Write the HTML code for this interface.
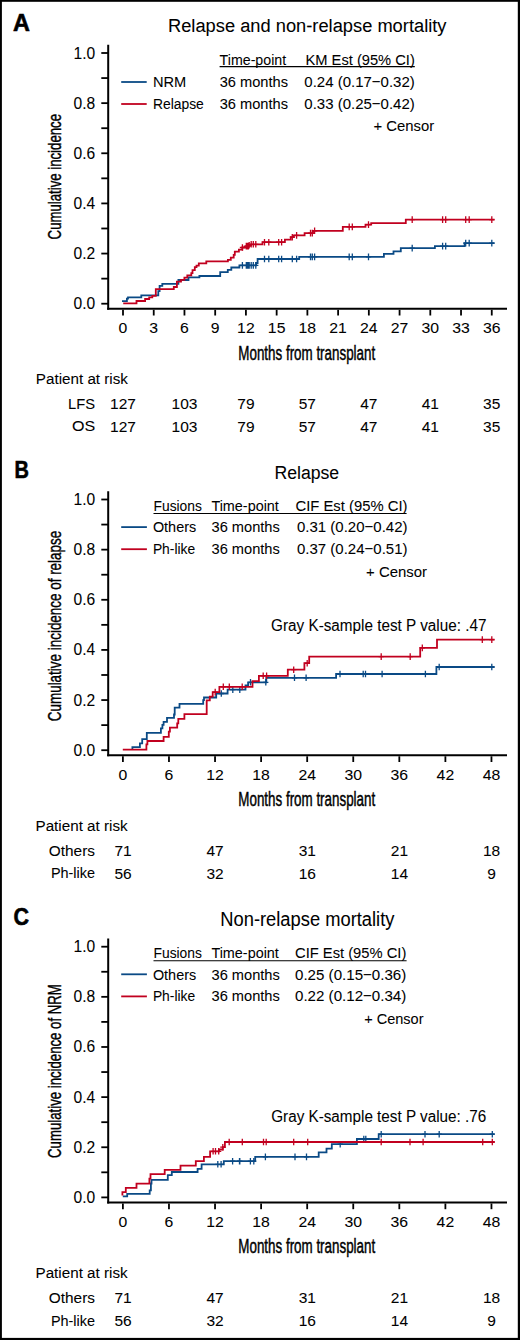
<!DOCTYPE html>
<html><head><meta charset="utf-8"><title>Cumulative incidence curves</title>
<style>html,body{margin:0;padding:0;background:#fff;} svg{display:block;} text{font-family:"Liberation Sans",sans-serif;}</style>
</head><body>
<svg width="520" height="1340" viewBox="0 0 520 1340">
<rect width="520" height="1340" fill="#fff"/>
<text x="12.90" y="30.90" font-size="24" font-weight="bold" stroke="#000" stroke-width="0.6" textLength="16.90" lengthAdjust="spacingAndGlyphs" fill="#000">A</text>
<text x="168.00" y="31.70" font-size="19.2" stroke="#000" stroke-width="0.06" textLength="278.49" lengthAdjust="spacingAndGlyphs" fill="#000">Relapse and non-relapse mortality</text>
<line x1="108.20" y1="44.80" x2="108.20" y2="309.80" stroke="#000" stroke-width="2.0"/>
<line x1="107.20" y1="308.80" x2="507.00" y2="308.80" stroke="#000" stroke-width="2.0"/>
<line x1="101.30" y1="53.00" x2="108.20" y2="53.00" stroke="#000" stroke-width="1.8"/>
<line x1="101.30" y1="78.07" x2="108.20" y2="78.07" stroke="#000" stroke-width="1.8"/>
<line x1="101.30" y1="103.14" x2="108.20" y2="103.14" stroke="#000" stroke-width="1.8"/>
<line x1="101.30" y1="128.21" x2="108.20" y2="128.21" stroke="#000" stroke-width="1.8"/>
<line x1="101.30" y1="153.28" x2="108.20" y2="153.28" stroke="#000" stroke-width="1.8"/>
<line x1="101.30" y1="178.35" x2="108.20" y2="178.35" stroke="#000" stroke-width="1.8"/>
<line x1="101.30" y1="203.42" x2="108.20" y2="203.42" stroke="#000" stroke-width="1.8"/>
<line x1="101.30" y1="228.49" x2="108.20" y2="228.49" stroke="#000" stroke-width="1.8"/>
<line x1="101.30" y1="253.56" x2="108.20" y2="253.56" stroke="#000" stroke-width="1.8"/>
<line x1="101.30" y1="278.63" x2="108.20" y2="278.63" stroke="#000" stroke-width="1.8"/>
<line x1="101.30" y1="303.70" x2="108.20" y2="303.70" stroke="#000" stroke-width="1.8"/>
<text x="73.52" y="58.50" font-size="15.6" stroke="#000" stroke-width="0.06" fill="#000">1.0</text>
<text x="73.52" y="108.64" font-size="15.6" stroke="#000" stroke-width="0.06" fill="#000">0.8</text>
<text x="73.52" y="158.78" font-size="15.6" stroke="#000" stroke-width="0.06" fill="#000">0.6</text>
<text x="73.52" y="208.92" font-size="15.6" stroke="#000" stroke-width="0.06" fill="#000">0.4</text>
<text x="73.52" y="259.06" font-size="15.6" stroke="#000" stroke-width="0.06" fill="#000">0.2</text>
<text x="73.52" y="309.20" font-size="15.6" stroke="#000" stroke-width="0.06" fill="#000">0.0</text>
<line x1="123.00" y1="309.80" x2="123.00" y2="315.50" stroke="#000" stroke-width="1.8"/>
<text x="118.61" y="333.30" font-size="14.9" stroke="#000" stroke-width="0.06" textLength="8.78" lengthAdjust="spacingAndGlyphs" fill="#000">0</text>
<line x1="153.73" y1="309.80" x2="153.73" y2="315.50" stroke="#000" stroke-width="1.8"/>
<text x="149.34" y="333.30" font-size="14.9" stroke="#000" stroke-width="0.06" textLength="8.78" lengthAdjust="spacingAndGlyphs" fill="#000">3</text>
<line x1="184.46" y1="309.80" x2="184.46" y2="315.50" stroke="#000" stroke-width="1.8"/>
<text x="180.07" y="333.30" font-size="14.9" stroke="#000" stroke-width="0.06" textLength="8.78" lengthAdjust="spacingAndGlyphs" fill="#000">6</text>
<line x1="215.19" y1="309.80" x2="215.19" y2="315.50" stroke="#000" stroke-width="1.8"/>
<text x="210.80" y="333.30" font-size="14.9" stroke="#000" stroke-width="0.06" textLength="8.78" lengthAdjust="spacingAndGlyphs" fill="#000">9</text>
<line x1="245.92" y1="309.80" x2="245.92" y2="315.50" stroke="#000" stroke-width="1.8"/>
<text x="237.14" y="333.30" font-size="14.9" stroke="#000" stroke-width="0.06" textLength="17.57" lengthAdjust="spacingAndGlyphs" fill="#000">12</text>
<line x1="276.65" y1="309.80" x2="276.65" y2="315.50" stroke="#000" stroke-width="1.8"/>
<text x="267.87" y="333.30" font-size="14.9" stroke="#000" stroke-width="0.06" textLength="17.57" lengthAdjust="spacingAndGlyphs" fill="#000">15</text>
<line x1="307.38" y1="309.80" x2="307.38" y2="315.50" stroke="#000" stroke-width="1.8"/>
<text x="298.60" y="333.30" font-size="14.9" stroke="#000" stroke-width="0.06" textLength="17.57" lengthAdjust="spacingAndGlyphs" fill="#000">18</text>
<line x1="338.11" y1="309.80" x2="338.11" y2="315.50" stroke="#000" stroke-width="1.8"/>
<text x="329.33" y="333.30" font-size="14.9" stroke="#000" stroke-width="0.06" textLength="17.57" lengthAdjust="spacingAndGlyphs" fill="#000">21</text>
<line x1="368.84" y1="309.80" x2="368.84" y2="315.50" stroke="#000" stroke-width="1.8"/>
<text x="360.06" y="333.30" font-size="14.9" stroke="#000" stroke-width="0.06" textLength="17.57" lengthAdjust="spacingAndGlyphs" fill="#000">24</text>
<line x1="399.57" y1="309.80" x2="399.57" y2="315.50" stroke="#000" stroke-width="1.8"/>
<text x="390.79" y="333.30" font-size="14.9" stroke="#000" stroke-width="0.06" textLength="17.57" lengthAdjust="spacingAndGlyphs" fill="#000">27</text>
<line x1="430.30" y1="309.80" x2="430.30" y2="315.50" stroke="#000" stroke-width="1.8"/>
<text x="421.52" y="333.30" font-size="14.9" stroke="#000" stroke-width="0.06" textLength="17.57" lengthAdjust="spacingAndGlyphs" fill="#000">30</text>
<line x1="461.03" y1="309.80" x2="461.03" y2="315.50" stroke="#000" stroke-width="1.8"/>
<text x="452.25" y="333.30" font-size="14.9" stroke="#000" stroke-width="0.06" textLength="17.57" lengthAdjust="spacingAndGlyphs" fill="#000">33</text>
<line x1="491.76" y1="309.80" x2="491.76" y2="315.50" stroke="#000" stroke-width="1.8"/>
<text x="482.98" y="333.30" font-size="14.9" stroke="#000" stroke-width="0.06" textLength="17.57" lengthAdjust="spacingAndGlyphs" fill="#000">36</text>
<text x="238.30" y="360.00" font-size="19.4" stroke="#000" stroke-width="0.45" textLength="136.89" lengthAdjust="spacingAndGlyphs" fill="#000">Months from transplant</text>
<text x="0" y="0" font-size="18.5" stroke="#000" stroke-width="0.4" textLength="125.40" lengthAdjust="spacingAndGlyphs" fill="#000" transform="translate(61.30,239.40) rotate(-90)">Cumulative incidence</text>
<line x1="121.20" y1="82.00" x2="146.70" y2="82.00" stroke="#0a4a85" stroke-width="1.8"/>
<line x1="121.20" y1="104.00" x2="146.70" y2="104.00" stroke="#c1001f" stroke-width="1.8"/>
<text x="152.90" y="86.90" font-size="15.4" stroke="#000" stroke-width="0.06" textLength="33.31" lengthAdjust="spacingAndGlyphs" fill="#000">NRM</text>
<text x="152.90" y="108.90" font-size="15.4" stroke="#000" stroke-width="0.06" textLength="50.90" lengthAdjust="spacingAndGlyphs" fill="#000">Relapse</text>
<text x="219.60" y="64.60" font-size="15.4" stroke="#000" stroke-width="0.06" textLength="66.59" lengthAdjust="spacingAndGlyphs" fill="#000">Time-point</text>
<text x="305.50" y="64.60" font-size="15.4" stroke="#000" stroke-width="0.06" textLength="109.30" lengthAdjust="spacingAndGlyphs" fill="#000">KM Est (95% CI)</text>
<line x1="219.60" y1="66.60" x2="414.80" y2="66.60" stroke="#000" stroke-width="1.2"/>
<text x="219.70" y="86.90" font-size="15.4" stroke="#000" stroke-width="0.06" textLength="68.31" lengthAdjust="spacingAndGlyphs" fill="#000">36 months</text>
<text x="219.70" y="108.90" font-size="15.4" stroke="#000" stroke-width="0.06" textLength="68.31" lengthAdjust="spacingAndGlyphs" fill="#000">36 months</text>
<text x="304.30" y="86.90" font-size="15.4" stroke="#000" stroke-width="0.06" textLength="110.50" lengthAdjust="spacingAndGlyphs" fill="#000">0.24 (0.17−0.32)</text>
<text x="304.30" y="108.90" font-size="15.4" stroke="#000" stroke-width="0.06" textLength="110.50" lengthAdjust="spacingAndGlyphs" fill="#000">0.33 (0.25−0.42)</text>
<text x="373.50" y="131.00" font-size="15.4" stroke="#000" stroke-width="0.06" textLength="60.61" lengthAdjust="spacingAndGlyphs" fill="#000">+ Censor</text>
<path d="M122.00,301.10 H126.90 V298.70 H128.00 V297.30 H141.30 V295.40 H158.30 V291.20 H159.60 V285.90 H162.30 V283.80 H178.40 V280.00 H188.50 V277.30 H199.40 V276.00 H220.20 V272.20 H227.80 V269.80 H231.30 V267.50 H239.40 V265.40 H256.20 V263.00 H257.60 V259.00 H299.20 V256.90 H383.90 V253.80 H393.50 V251.40 H400.80 V248.10 H434.90 V246.10 H464.60 V243.10 H494.60" fill="none" stroke="#0a4a85" stroke-width="1.8" stroke-linejoin="miter" stroke-linecap="butt"/>
<path d="M242.40,262.10V268.70M239.80,265.40H245.00M246.30,262.10V268.70M243.70,265.40H248.90M247.30,262.10V268.70M244.70,265.40H249.90M248.30,262.10V268.70M245.70,265.40H250.90M249.20,262.10V268.70M246.60,265.40H251.80M251.20,262.10V268.70M248.60,265.40H253.80M253.30,262.10V268.70M250.70,265.40H255.90M255.80,262.10V268.70M253.20,265.40H258.40M264.50,255.70V262.30M261.90,259.00H267.10M268.80,255.70V262.30M266.20,259.00H271.40M278.70,255.70V262.30M276.10,259.00H281.30M281.60,255.70V262.30M279.00,259.00H284.20M292.30,255.70V262.30M289.70,259.00H294.90M296.60,255.70V262.30M294.00,259.00H299.20M310.50,253.60V260.20M307.90,256.90H313.10M312.30,253.60V260.20M309.70,256.90H314.90M314.60,253.60V260.20M312.00,256.90H317.20M349.20,253.60V260.20M346.60,256.90H351.80M352.30,253.60V260.20M349.70,256.90H354.90M368.50,253.60V260.20M365.90,256.90H371.10M412.20,244.80V251.40M409.60,248.10H414.80M442.60,242.80V249.40M440.00,246.10H445.20M445.70,242.80V249.40M443.10,246.10H448.30M465.70,239.80V246.40M463.10,243.10H468.30M469.20,239.80V246.40M466.60,243.10H471.80M491.80,239.80V246.40M489.20,243.10H494.40" fill="none" stroke="#0a4a85" stroke-width="1.3"/>
<path d="M123.20,303.30 H136.50 V301.00 H145.10 V299.00 H149.20 V297.30 H152.30 V295.80 H155.80 V289.20 H173.80 V287.00 H176.90 V281.70 H181.00 V279.80 H184.40 V277.70 H187.30 V275.40 H191.30 V273.10 H192.50 V270.20 H194.80 V267.10 H196.50 V265.60 H198.80 V263.30 H206.30 V261.30 H227.90 V259.80 H230.80 V257.70 H233.70 V254.80 H234.80 V251.70 H238.90 V249.60 H242.30 V247.50 H246.10 V246.10 H248.40 V245.20 H251.00 V244.30 H262.50 V242.20 H284.90 V239.70 H290.80 V237.20 H293.80 V235.40 H304.60 V233.10 H313.00 V230.80 H342.80 V226.90 H365.50 V224.60 H371.20 V223.10 H405.80 V219.60 H494.60" fill="none" stroke="#c1001f" stroke-width="1.8" stroke-linejoin="miter" stroke-linecap="butt"/>
<path d="M242.40,244.20V250.80M239.80,247.50H245.00M246.30,242.80V249.40M243.70,246.10H248.90M247.30,242.80V249.40M244.70,246.10H249.90M248.30,242.80V249.40M245.70,246.10H250.90M249.20,241.90V248.50M246.60,245.20H251.80M251.20,241.00V247.60M248.60,244.30H253.80M253.30,241.00V247.60M250.70,244.30H255.90M255.80,241.00V247.60M253.20,244.30H258.40M264.50,238.90V245.50M261.90,242.20H267.10M268.80,238.90V245.50M266.20,242.20H271.40M278.70,238.90V245.50M276.10,242.20H281.30M281.60,238.90V245.50M279.00,242.20H284.20M292.30,233.90V240.50M289.70,237.20H294.90M296.60,232.10V238.70M294.00,235.40H299.20M310.50,229.80V236.40M307.90,233.10H313.10M312.30,229.80V236.40M309.70,233.10H314.90M314.60,227.50V234.10M312.00,230.80H317.20M349.20,223.60V230.20M346.60,226.90H351.80M352.30,223.60V230.20M349.70,226.90H354.90M368.50,221.30V227.90M365.90,224.60H371.10M412.20,216.30V222.90M409.60,219.60H414.80M442.60,216.30V222.90M440.00,219.60H445.20M445.70,216.30V222.90M443.10,219.60H448.30M465.70,216.30V222.90M463.10,219.60H468.30M469.20,216.30V222.90M466.60,219.60H471.80M491.80,216.30V222.90M489.20,219.60H494.40" fill="none" stroke="#c1001f" stroke-width="1.3"/>
<text x="35.80" y="384.30" font-size="15.4" stroke="#000" stroke-width="0.06" textLength="92.17" lengthAdjust="spacingAndGlyphs" fill="#000">Patient at risk</text>
<text x="68.10" y="409.20" font-size="15.3" stroke="#000" stroke-width="0.06" textLength="27.00" lengthAdjust="spacingAndGlyphs" fill="#000">LFS</text>
<text x="71.90" y="431.40" font-size="15.3" stroke="#000" stroke-width="0.06" textLength="23.20" lengthAdjust="spacingAndGlyphs" fill="#000">OS</text>
<text x="110.07" y="409.40" font-size="15.5" stroke="#000" stroke-width="0.06" fill="#000">127</text>
<text x="110.07" y="431.50" font-size="15.5" stroke="#000" stroke-width="0.06" fill="#000">127</text>
<text x="171.52" y="409.40" font-size="15.5" stroke="#000" stroke-width="0.06" fill="#000">103</text>
<text x="171.52" y="431.50" font-size="15.5" stroke="#000" stroke-width="0.06" fill="#000">103</text>
<text x="237.28" y="409.40" font-size="15.5" stroke="#000" stroke-width="0.06" fill="#000">79</text>
<text x="237.28" y="431.50" font-size="15.5" stroke="#000" stroke-width="0.06" fill="#000">79</text>
<text x="298.73" y="409.40" font-size="15.5" stroke="#000" stroke-width="0.06" fill="#000">57</text>
<text x="298.73" y="431.50" font-size="15.5" stroke="#000" stroke-width="0.06" fill="#000">57</text>
<text x="360.18" y="409.40" font-size="15.5" stroke="#000" stroke-width="0.06" fill="#000">47</text>
<text x="360.18" y="431.50" font-size="15.5" stroke="#000" stroke-width="0.06" fill="#000">47</text>
<text x="421.63" y="409.40" font-size="15.5" stroke="#000" stroke-width="0.06" fill="#000">41</text>
<text x="421.63" y="431.50" font-size="15.5" stroke="#000" stroke-width="0.06" fill="#000">41</text>
<text x="483.08" y="409.40" font-size="15.5" stroke="#000" stroke-width="0.06" fill="#000">35</text>
<text x="483.08" y="431.50" font-size="15.5" stroke="#000" stroke-width="0.06" fill="#000">35</text>
<text x="14.40" y="477.50" font-size="24" font-weight="bold" stroke="#000" stroke-width="0.6" textLength="14.40" lengthAdjust="spacingAndGlyphs" fill="#000">B</text>
<text x="274.40" y="478.80" font-size="19.2" stroke="#000" stroke-width="0.06" textLength="64.80" lengthAdjust="spacingAndGlyphs" fill="#000">Relapse</text>
<line x1="108.20" y1="491.30" x2="108.20" y2="756.30" stroke="#000" stroke-width="2.0"/>
<line x1="107.20" y1="755.30" x2="507.00" y2="755.30" stroke="#000" stroke-width="2.0"/>
<line x1="101.30" y1="499.50" x2="108.20" y2="499.50" stroke="#000" stroke-width="1.8"/>
<line x1="101.30" y1="524.57" x2="108.20" y2="524.57" stroke="#000" stroke-width="1.8"/>
<line x1="101.30" y1="549.64" x2="108.20" y2="549.64" stroke="#000" stroke-width="1.8"/>
<line x1="101.30" y1="574.71" x2="108.20" y2="574.71" stroke="#000" stroke-width="1.8"/>
<line x1="101.30" y1="599.78" x2="108.20" y2="599.78" stroke="#000" stroke-width="1.8"/>
<line x1="101.30" y1="624.85" x2="108.20" y2="624.85" stroke="#000" stroke-width="1.8"/>
<line x1="101.30" y1="649.92" x2="108.20" y2="649.92" stroke="#000" stroke-width="1.8"/>
<line x1="101.30" y1="674.99" x2="108.20" y2="674.99" stroke="#000" stroke-width="1.8"/>
<line x1="101.30" y1="700.06" x2="108.20" y2="700.06" stroke="#000" stroke-width="1.8"/>
<line x1="101.30" y1="725.13" x2="108.20" y2="725.13" stroke="#000" stroke-width="1.8"/>
<line x1="101.30" y1="750.20" x2="108.20" y2="750.20" stroke="#000" stroke-width="1.8"/>
<text x="73.52" y="505.00" font-size="15.6" stroke="#000" stroke-width="0.06" fill="#000">1.0</text>
<text x="73.52" y="555.14" font-size="15.6" stroke="#000" stroke-width="0.06" fill="#000">0.8</text>
<text x="73.52" y="605.28" font-size="15.6" stroke="#000" stroke-width="0.06" fill="#000">0.6</text>
<text x="73.52" y="655.42" font-size="15.6" stroke="#000" stroke-width="0.06" fill="#000">0.4</text>
<text x="73.52" y="705.56" font-size="15.6" stroke="#000" stroke-width="0.06" fill="#000">0.2</text>
<text x="73.52" y="755.70" font-size="15.6" stroke="#000" stroke-width="0.06" fill="#000">0.0</text>
<line x1="122.90" y1="756.30" x2="122.90" y2="762.00" stroke="#000" stroke-width="1.8"/>
<text x="118.51" y="779.80" font-size="14.9" stroke="#000" stroke-width="0.06" textLength="8.78" lengthAdjust="spacingAndGlyphs" fill="#000">0</text>
<line x1="168.97" y1="756.30" x2="168.97" y2="762.00" stroke="#000" stroke-width="1.8"/>
<text x="164.58" y="779.80" font-size="14.9" stroke="#000" stroke-width="0.06" textLength="8.78" lengthAdjust="spacingAndGlyphs" fill="#000">6</text>
<line x1="215.04" y1="756.30" x2="215.04" y2="762.00" stroke="#000" stroke-width="1.8"/>
<text x="206.26" y="779.80" font-size="14.9" stroke="#000" stroke-width="0.06" textLength="17.57" lengthAdjust="spacingAndGlyphs" fill="#000">12</text>
<line x1="261.11" y1="756.30" x2="261.11" y2="762.00" stroke="#000" stroke-width="1.8"/>
<text x="252.33" y="779.80" font-size="14.9" stroke="#000" stroke-width="0.06" textLength="17.57" lengthAdjust="spacingAndGlyphs" fill="#000">18</text>
<line x1="307.18" y1="756.30" x2="307.18" y2="762.00" stroke="#000" stroke-width="1.8"/>
<text x="298.40" y="779.80" font-size="14.9" stroke="#000" stroke-width="0.06" textLength="17.57" lengthAdjust="spacingAndGlyphs" fill="#000">24</text>
<line x1="353.25" y1="756.30" x2="353.25" y2="762.00" stroke="#000" stroke-width="1.8"/>
<text x="344.47" y="779.80" font-size="14.9" stroke="#000" stroke-width="0.06" textLength="17.57" lengthAdjust="spacingAndGlyphs" fill="#000">30</text>
<line x1="399.32" y1="756.30" x2="399.32" y2="762.00" stroke="#000" stroke-width="1.8"/>
<text x="390.54" y="779.80" font-size="14.9" stroke="#000" stroke-width="0.06" textLength="17.57" lengthAdjust="spacingAndGlyphs" fill="#000">36</text>
<line x1="445.39" y1="756.30" x2="445.39" y2="762.00" stroke="#000" stroke-width="1.8"/>
<text x="436.61" y="779.80" font-size="14.9" stroke="#000" stroke-width="0.06" textLength="17.57" lengthAdjust="spacingAndGlyphs" fill="#000">42</text>
<line x1="491.46" y1="756.30" x2="491.46" y2="762.00" stroke="#000" stroke-width="1.8"/>
<text x="482.68" y="779.80" font-size="14.9" stroke="#000" stroke-width="0.06" textLength="17.57" lengthAdjust="spacingAndGlyphs" fill="#000">48</text>
<text x="238.30" y="806.40" font-size="19.4" stroke="#000" stroke-width="0.45" textLength="136.89" lengthAdjust="spacingAndGlyphs" fill="#000">Months from transplant</text>
<text x="0" y="0" font-size="18.5" stroke="#000" stroke-width="0.4" textLength="190.41" lengthAdjust="spacingAndGlyphs" fill="#000" transform="translate(60.50,721.20) rotate(-90)">Cumulative incidence of relapse</text>
<line x1="121.20" y1="527.10" x2="146.90" y2="527.10" stroke="#0a4a85" stroke-width="1.8"/>
<line x1="121.20" y1="549.20" x2="146.90" y2="549.20" stroke="#c1001f" stroke-width="1.8"/>
<text x="153.50" y="511.20" font-size="15.4" stroke="#000" stroke-width="0.06" textLength="48.41" lengthAdjust="spacingAndGlyphs" fill="#000">Fusions</text>
<text x="211.40" y="511.20" font-size="15.4" stroke="#000" stroke-width="0.06" textLength="67.49" lengthAdjust="spacingAndGlyphs" fill="#000">Time-point</text>
<text x="295.50" y="511.20" font-size="15.4" stroke="#000" stroke-width="0.06" textLength="111.99" lengthAdjust="spacingAndGlyphs" fill="#000">CIF Est (95% CI)</text>
<line x1="153.50" y1="513.50" x2="406.60" y2="513.50" stroke="#000" stroke-width="1.1"/>
<text x="152.90" y="532.30" font-size="15.4" stroke="#000" stroke-width="0.06" textLength="43.30" lengthAdjust="spacingAndGlyphs" fill="#000">Others</text>
<text x="152.90" y="554.20" font-size="15.4" stroke="#000" stroke-width="0.06" textLength="42.30" lengthAdjust="spacingAndGlyphs" fill="#000">Ph-like</text>
<text x="211.50" y="532.30" font-size="15.4" stroke="#000" stroke-width="0.06" textLength="68.31" lengthAdjust="spacingAndGlyphs" fill="#000">36 months</text>
<text x="211.50" y="554.20" font-size="15.4" stroke="#000" stroke-width="0.06" textLength="68.31" lengthAdjust="spacingAndGlyphs" fill="#000">36 months</text>
<text x="297.00" y="532.30" font-size="15.4" stroke="#000" stroke-width="0.06" textLength="110.50" lengthAdjust="spacingAndGlyphs" fill="#000">0.31 (0.20−0.42)</text>
<text x="297.00" y="554.20" font-size="15.4" stroke="#000" stroke-width="0.06" textLength="110.50" lengthAdjust="spacingAndGlyphs" fill="#000">0.37 (0.24−0.51)</text>
<text x="366.10" y="576.50" font-size="15.4" stroke="#000" stroke-width="0.06" textLength="60.91" lengthAdjust="spacingAndGlyphs" fill="#000">+ Censor</text>
<text x="271.10" y="630.80" font-size="15.8" stroke="#000" stroke-width="0.06" textLength="215.40" lengthAdjust="spacingAndGlyphs" fill="#000">Gray K-sample test P value: .47</text>
<path d="M132.40,749.60 H132.40 V747.10 H139.90 V743.30 H142.20 V739.20 H146.80 V732.90 H160.90 V728.30 H162.40 V724.80 H163.60 V721.90 H167.00 V717.90 H174.00 V714.50 H174.70 V707.70 H179.50 V703.80 H203.20 V700.20 H204.00 V697.50 H216.20 V693.50 H227.60 V689.60 H245.50 V685.30 H248.10 V682.30 H266.30 V677.80 H336.10 V674.00 H436.40 V667.00 H494.60" fill="none" stroke="#0a4a85" stroke-width="1.8" stroke-linejoin="miter" stroke-linecap="butt"/>
<path d="M221.30,690.20V696.80M218.70,693.50H223.90M232.80,686.30V692.90M230.20,689.60H235.40M239.80,686.30V692.90M237.20,689.60H242.40M250.50,679.00V685.60M247.90,682.30H253.10M265.80,679.00V685.60M263.20,682.30H268.40M294.50,674.50V681.10M291.90,677.80H297.10M306.10,674.50V681.10M303.50,677.80H308.70M340.00,670.70V677.30M337.40,674.00H342.60M363.20,670.70V677.30M360.60,674.00H365.80M365.50,670.70V677.30M362.90,674.00H368.10M382.10,670.70V677.30M379.50,674.00H384.70M425.40,670.70V677.30M422.80,674.00H428.00M439.20,663.70V670.30M436.60,667.00H441.80M491.80,663.70V670.30M489.20,667.00H494.40" fill="none" stroke="#0a4a85" stroke-width="1.3"/>
<path d="M122.80,749.60 H146.40 V744.40 H147.40 V741.00 H163.60 V736.90 H168.80 V731.70 H169.90 V727.70 H177.20 V723.40 H178.30 V718.80 H184.40 V714.20 H206.70 V700.40 H209.80 V696.70 H212.70 V692.10 H219.40 V686.80 H252.50 V681.20 H258.90 V675.80 H287.80 V669.70 H304.40 V663.20 H309.20 V656.60 H420.20 V647.90 H437.00 V639.60 H494.60" fill="none" stroke="#c1001f" stroke-width="1.8" stroke-linejoin="miter" stroke-linecap="butt"/>
<path d="M215.20,688.80V695.40M212.60,692.10H217.80M223.30,683.50V690.10M220.70,686.80H225.90M229.30,683.50V690.10M226.70,686.80H231.90M242.20,683.50V690.10M239.60,686.80H244.80M263.20,672.50V679.10M260.60,675.80H265.80M266.60,672.50V679.10M264.00,675.80H269.20M293.70,666.40V673.00M291.10,669.70H296.30M307.20,659.90V666.50M304.60,663.20H309.80M381.20,653.30V659.90M378.60,656.60H383.80M410.20,653.30V659.90M407.60,656.60H412.80M422.30,644.60V651.20M419.70,647.90H424.90M482.30,636.30V642.90M479.70,639.60H484.90M491.80,636.30V642.90M489.20,639.60H494.40" fill="none" stroke="#c1001f" stroke-width="1.3"/>
<text x="35.50" y="830.90" font-size="15.4" stroke="#000" stroke-width="0.06" textLength="92.17" lengthAdjust="spacingAndGlyphs" fill="#000">Patient at risk</text>
<text x="48.80" y="856.00" font-size="15.4" stroke="#000" stroke-width="0.06" textLength="46.20" lengthAdjust="spacingAndGlyphs" fill="#000">Others</text>
<text x="50.90" y="878.40" font-size="15.4" stroke="#000" stroke-width="0.06" textLength="44.10" lengthAdjust="spacingAndGlyphs" fill="#000">Ph-like</text>
<text x="114.38" y="856.00" font-size="15.5" stroke="#000" stroke-width="0.06" fill="#000">71</text>
<text x="114.38" y="878.60" font-size="15.5" stroke="#000" stroke-width="0.06" fill="#000">56</text>
<text x="206.51" y="856.00" font-size="15.5" stroke="#000" stroke-width="0.06" fill="#000">47</text>
<text x="206.51" y="878.60" font-size="15.5" stroke="#000" stroke-width="0.06" fill="#000">32</text>
<text x="298.64" y="856.00" font-size="15.5" stroke="#000" stroke-width="0.06" fill="#000">31</text>
<text x="298.64" y="878.60" font-size="15.5" stroke="#000" stroke-width="0.06" fill="#000">16</text>
<text x="390.77" y="856.00" font-size="15.5" stroke="#000" stroke-width="0.06" fill="#000">21</text>
<text x="390.77" y="878.60" font-size="15.5" stroke="#000" stroke-width="0.06" fill="#000">14</text>
<text x="482.90" y="856.00" font-size="15.5" stroke="#000" stroke-width="0.06" fill="#000">18</text>
<text x="487.21" y="878.60" font-size="15.5" stroke="#000" stroke-width="0.06" fill="#000">9</text>
<text x="13.60" y="924.70" font-size="24" font-weight="bold" stroke="#000" stroke-width="0.6" textLength="15.50" lengthAdjust="spacingAndGlyphs" fill="#000">C</text>
<text x="220.30" y="925.70" font-size="19.5" stroke="#000" stroke-width="0.06" textLength="174.11" lengthAdjust="spacingAndGlyphs" fill="#000">Non-relapse mortality</text>
<line x1="108.20" y1="938.50" x2="108.20" y2="1203.50" stroke="#000" stroke-width="2.0"/>
<line x1="107.20" y1="1202.50" x2="507.00" y2="1202.50" stroke="#000" stroke-width="2.0"/>
<line x1="101.30" y1="946.70" x2="108.20" y2="946.70" stroke="#000" stroke-width="1.8"/>
<line x1="101.30" y1="971.77" x2="108.20" y2="971.77" stroke="#000" stroke-width="1.8"/>
<line x1="101.30" y1="996.84" x2="108.20" y2="996.84" stroke="#000" stroke-width="1.8"/>
<line x1="101.30" y1="1021.91" x2="108.20" y2="1021.91" stroke="#000" stroke-width="1.8"/>
<line x1="101.30" y1="1046.98" x2="108.20" y2="1046.98" stroke="#000" stroke-width="1.8"/>
<line x1="101.30" y1="1072.05" x2="108.20" y2="1072.05" stroke="#000" stroke-width="1.8"/>
<line x1="101.30" y1="1097.12" x2="108.20" y2="1097.12" stroke="#000" stroke-width="1.8"/>
<line x1="101.30" y1="1122.19" x2="108.20" y2="1122.19" stroke="#000" stroke-width="1.8"/>
<line x1="101.30" y1="1147.26" x2="108.20" y2="1147.26" stroke="#000" stroke-width="1.8"/>
<line x1="101.30" y1="1172.33" x2="108.20" y2="1172.33" stroke="#000" stroke-width="1.8"/>
<line x1="101.30" y1="1197.40" x2="108.20" y2="1197.40" stroke="#000" stroke-width="1.8"/>
<text x="73.52" y="952.20" font-size="15.6" stroke="#000" stroke-width="0.06" fill="#000">1.0</text>
<text x="73.52" y="1002.34" font-size="15.6" stroke="#000" stroke-width="0.06" fill="#000">0.8</text>
<text x="73.52" y="1052.48" font-size="15.6" stroke="#000" stroke-width="0.06" fill="#000">0.6</text>
<text x="73.52" y="1102.62" font-size="15.6" stroke="#000" stroke-width="0.06" fill="#000">0.4</text>
<text x="73.52" y="1152.76" font-size="15.6" stroke="#000" stroke-width="0.06" fill="#000">0.2</text>
<text x="73.52" y="1202.90" font-size="15.6" stroke="#000" stroke-width="0.06" fill="#000">0.0</text>
<line x1="122.90" y1="1203.50" x2="122.90" y2="1209.20" stroke="#000" stroke-width="1.8"/>
<text x="118.51" y="1227.00" font-size="14.9" stroke="#000" stroke-width="0.06" textLength="8.78" lengthAdjust="spacingAndGlyphs" fill="#000">0</text>
<line x1="168.97" y1="1203.50" x2="168.97" y2="1209.20" stroke="#000" stroke-width="1.8"/>
<text x="164.58" y="1227.00" font-size="14.9" stroke="#000" stroke-width="0.06" textLength="8.78" lengthAdjust="spacingAndGlyphs" fill="#000">6</text>
<line x1="215.04" y1="1203.50" x2="215.04" y2="1209.20" stroke="#000" stroke-width="1.8"/>
<text x="206.26" y="1227.00" font-size="14.9" stroke="#000" stroke-width="0.06" textLength="17.57" lengthAdjust="spacingAndGlyphs" fill="#000">12</text>
<line x1="261.11" y1="1203.50" x2="261.11" y2="1209.20" stroke="#000" stroke-width="1.8"/>
<text x="252.33" y="1227.00" font-size="14.9" stroke="#000" stroke-width="0.06" textLength="17.57" lengthAdjust="spacingAndGlyphs" fill="#000">18</text>
<line x1="307.18" y1="1203.50" x2="307.18" y2="1209.20" stroke="#000" stroke-width="1.8"/>
<text x="298.40" y="1227.00" font-size="14.9" stroke="#000" stroke-width="0.06" textLength="17.57" lengthAdjust="spacingAndGlyphs" fill="#000">24</text>
<line x1="353.25" y1="1203.50" x2="353.25" y2="1209.20" stroke="#000" stroke-width="1.8"/>
<text x="344.47" y="1227.00" font-size="14.9" stroke="#000" stroke-width="0.06" textLength="17.57" lengthAdjust="spacingAndGlyphs" fill="#000">30</text>
<line x1="399.32" y1="1203.50" x2="399.32" y2="1209.20" stroke="#000" stroke-width="1.8"/>
<text x="390.54" y="1227.00" font-size="14.9" stroke="#000" stroke-width="0.06" textLength="17.57" lengthAdjust="spacingAndGlyphs" fill="#000">36</text>
<line x1="445.39" y1="1203.50" x2="445.39" y2="1209.20" stroke="#000" stroke-width="1.8"/>
<text x="436.61" y="1227.00" font-size="14.9" stroke="#000" stroke-width="0.06" textLength="17.57" lengthAdjust="spacingAndGlyphs" fill="#000">42</text>
<line x1="491.46" y1="1203.50" x2="491.46" y2="1209.20" stroke="#000" stroke-width="1.8"/>
<text x="482.68" y="1227.00" font-size="14.9" stroke="#000" stroke-width="0.06" textLength="17.57" lengthAdjust="spacingAndGlyphs" fill="#000">48</text>
<text x="238.30" y="1253.40" font-size="19.4" stroke="#000" stroke-width="0.45" textLength="136.89" lengthAdjust="spacingAndGlyphs" fill="#000">Months from transplant</text>
<text x="0" y="0" font-size="18.5" stroke="#000" stroke-width="0.4" textLength="173.70" lengthAdjust="spacingAndGlyphs" fill="#000" transform="translate(61.30,1157.90) rotate(-90)">Cumulative incidence of NRM</text>
<line x1="121.20" y1="974.30" x2="146.90" y2="974.30" stroke="#0a4a85" stroke-width="1.8"/>
<line x1="121.20" y1="996.40" x2="146.90" y2="996.40" stroke="#c1001f" stroke-width="1.8"/>
<text x="153.50" y="958.40" font-size="15.4" stroke="#000" stroke-width="0.06" textLength="48.41" lengthAdjust="spacingAndGlyphs" fill="#000">Fusions</text>
<text x="211.40" y="958.40" font-size="15.4" stroke="#000" stroke-width="0.06" textLength="67.49" lengthAdjust="spacingAndGlyphs" fill="#000">Time-point</text>
<text x="295.00" y="958.40" font-size="15.4" stroke="#000" stroke-width="0.06" textLength="111.29" lengthAdjust="spacingAndGlyphs" fill="#000">CIF Est (95% CI)</text>
<line x1="153.50" y1="960.70" x2="406.60" y2="960.70" stroke="#000" stroke-width="1.1"/>
<text x="152.90" y="979.50" font-size="15.4" stroke="#000" stroke-width="0.06" textLength="43.30" lengthAdjust="spacingAndGlyphs" fill="#000">Others</text>
<text x="152.90" y="1001.40" font-size="15.4" stroke="#000" stroke-width="0.06" textLength="42.30" lengthAdjust="spacingAndGlyphs" fill="#000">Ph-like</text>
<text x="211.50" y="979.50" font-size="15.4" stroke="#000" stroke-width="0.06" textLength="68.31" lengthAdjust="spacingAndGlyphs" fill="#000">36 months</text>
<text x="211.50" y="1001.40" font-size="15.4" stroke="#000" stroke-width="0.06" textLength="68.31" lengthAdjust="spacingAndGlyphs" fill="#000">36 months</text>
<text x="295.00" y="979.50" font-size="15.4" stroke="#000" stroke-width="0.06" textLength="111.30" lengthAdjust="spacingAndGlyphs" fill="#000">0.25 (0.15−0.36)</text>
<text x="295.00" y="1001.40" font-size="15.4" stroke="#000" stroke-width="0.06" textLength="111.30" lengthAdjust="spacingAndGlyphs" fill="#000">0.22 (0.12−0.34)</text>
<text x="364.20" y="1023.50" font-size="15.4" stroke="#000" stroke-width="0.06" textLength="59.31" lengthAdjust="spacingAndGlyphs" fill="#000">+ Censor</text>
<text x="271.25" y="1122.30" font-size="15.8" stroke="#000" stroke-width="0.06" textLength="214.90" lengthAdjust="spacingAndGlyphs" fill="#000">Gray K-sample test P value: .76</text>
<path d="M122.80,1196.40 H127.20 V1193.80 H149.70 V1190.40 H150.90 V1183.50 H151.50 V1179.80 H167.80 V1175.20 H171.80 V1172.00 H197.60 V1168.80 H201.60 V1164.30 H223.80 V1161.20 H255.20 V1156.90 H318.70 V1152.40 H326.50 V1148.60 H331.80 V1144.20 H356.90 V1139.00 H378.70 V1134.20 H494.60" fill="none" stroke="#0a4a85" stroke-width="1.8" stroke-linejoin="miter" stroke-linecap="butt"/>
<path d="M217.80,1161.00V1167.60M215.20,1164.30H220.40M221.10,1161.00V1167.60M218.50,1164.30H223.70M232.60,1157.90V1164.50M230.00,1161.20H235.20M239.50,1157.90V1164.50M236.90,1161.20H242.10M239.80,1157.90V1164.50M237.20,1161.20H242.40M250.40,1157.90V1164.50M247.80,1161.20H253.00M253.80,1157.90V1164.50M251.20,1161.20H256.40M265.40,1153.60V1160.20M262.80,1156.90H268.00M295.00,1153.60V1160.20M292.40,1156.90H297.60M306.50,1153.60V1160.20M303.90,1156.90H309.10M340.20,1140.90V1147.50M337.60,1144.20H342.80M363.80,1135.70V1142.30M361.20,1139.00H366.40M365.80,1135.70V1142.30M363.20,1139.00H368.40M381.20,1130.90V1137.50M378.60,1134.20H383.80M425.00,1130.90V1137.50M422.40,1134.20H427.60M439.20,1130.90V1137.50M436.60,1134.20H441.80M492.30,1130.90V1137.50M489.70,1134.20H494.90" fill="none" stroke="#0a4a85" stroke-width="1.3"/>
<path d="M122.40,1195.60 H122.40 V1192.10 H125.80 V1187.80 H136.50 V1183.70 H149.40 V1178.60 H150.50 V1174.20 H164.70 V1169.90 H180.50 V1165.70 H195.80 V1161.20 H203.90 V1156.90 H210.10 V1151.30 H219.10 V1149.50 H222.80 V1147.20 H224.90 V1142.00 H494.60" fill="none" stroke="#c1001f" stroke-width="1.8" stroke-linejoin="miter" stroke-linecap="butt"/>
<path d="M213.10,1148.00V1154.60M210.50,1151.30H215.70M215.50,1148.00V1154.60M212.90,1151.30H218.10M218.70,1148.00V1154.60M216.10,1151.30H221.30M222.80,1143.90V1150.50M220.20,1147.20H225.40M229.20,1138.70V1145.30M226.60,1142.00H231.80M242.30,1138.70V1145.30M239.70,1142.00H244.90M263.50,1138.70V1145.30M260.90,1142.00H266.10M266.20,1138.70V1145.30M263.60,1142.00H268.80M293.70,1138.70V1145.30M291.10,1142.00H296.30M307.70,1138.70V1145.30M305.10,1142.00H310.30M381.20,1138.70V1145.30M378.60,1142.00H383.80M410.00,1138.70V1145.30M407.40,1142.00H412.60M423.10,1138.70V1145.30M420.50,1142.00H425.70M482.70,1138.70V1145.30M480.10,1142.00H485.30M492.30,1138.70V1145.30M489.70,1142.00H494.90" fill="none" stroke="#c1001f" stroke-width="1.3"/>
<text x="35.50" y="1278.10" font-size="15.4" stroke="#000" stroke-width="0.06" textLength="92.17" lengthAdjust="spacingAndGlyphs" fill="#000">Patient at risk</text>
<text x="48.80" y="1303.20" font-size="15.4" stroke="#000" stroke-width="0.06" textLength="46.20" lengthAdjust="spacingAndGlyphs" fill="#000">Others</text>
<text x="50.90" y="1325.60" font-size="15.4" stroke="#000" stroke-width="0.06" textLength="44.10" lengthAdjust="spacingAndGlyphs" fill="#000">Ph-like</text>
<text x="114.38" y="1303.20" font-size="15.5" stroke="#000" stroke-width="0.06" fill="#000">71</text>
<text x="114.38" y="1325.80" font-size="15.5" stroke="#000" stroke-width="0.06" fill="#000">56</text>
<text x="206.51" y="1303.20" font-size="15.5" stroke="#000" stroke-width="0.06" fill="#000">47</text>
<text x="206.51" y="1325.80" font-size="15.5" stroke="#000" stroke-width="0.06" fill="#000">32</text>
<text x="298.64" y="1303.20" font-size="15.5" stroke="#000" stroke-width="0.06" fill="#000">31</text>
<text x="298.64" y="1325.80" font-size="15.5" stroke="#000" stroke-width="0.06" fill="#000">16</text>
<text x="390.77" y="1303.20" font-size="15.5" stroke="#000" stroke-width="0.06" fill="#000">21</text>
<text x="390.77" y="1325.80" font-size="15.5" stroke="#000" stroke-width="0.06" fill="#000">14</text>
<text x="482.90" y="1303.20" font-size="15.5" stroke="#000" stroke-width="0.06" fill="#000">18</text>
<text x="487.21" y="1325.80" font-size="15.5" stroke="#000" stroke-width="0.06" fill="#000">9</text>
<rect x="0" y="0" width="1.9" height="1340" fill="#000"/>
<rect x="0" y="0" width="520" height="1.8" fill="#000"/>
<rect x="517.8" y="0" width="2.2" height="1340" fill="#000"/>
<rect x="0" y="1337.9" width="520" height="2.1" fill="#000"/>
</svg>
</body></html>
